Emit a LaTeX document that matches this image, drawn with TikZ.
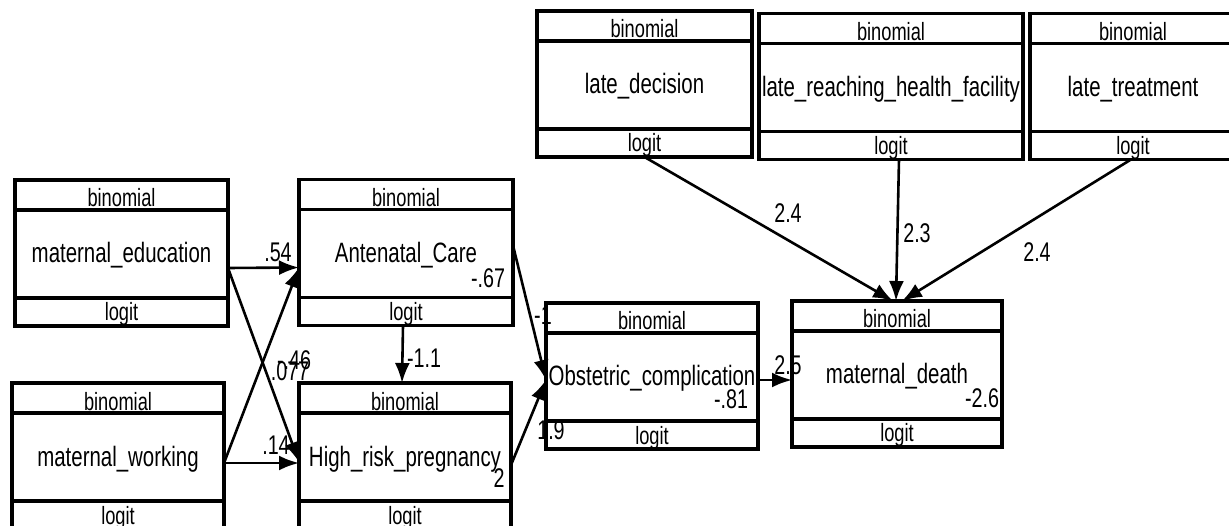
\documentclass[tikz,border=0pt]{standalone}
\usepackage{fontspec}
\usepackage{tikz}
\usetikzlibrary{positioning}
\usetikzlibrary{arrows.meta}
\newfontfamily\semfont{Liberation Sans}[FakeStretch=0.73]
\tikzset{every picture/.style={line width=3.3pt}}
\tikzset{varbox/.style={draw,minimum width=#1,minimum height=88pt,inner sep=0pt,outer sep=0pt,text height=21pt,text depth=3pt,font=\semfont\fontsize{28}{30}\selectfont},varbox/.default=212pt}
\tikzset{famcap/.style={draw,minimum width=#1,minimum height=30pt,inner sep=0pt,outer sep=0pt,text height=26pt,text depth=2pt,font=\semfont\fontsize{25}{27}\selectfont},famcap/.default=212pt}
\tikzset{linkcap/.style={draw,minimum width=#1,minimum height=28pt,inner sep=0pt,outer sep=0pt,text height=20pt,text depth=2pt,font=\semfont\fontsize{25}{27}\selectfont},linkcap/.default=212pt}
\tikzset{coef/.style={inner sep=0pt,font=\semfont\fontsize{27}{29}\selectfont},pathto/.style={line width=2.6pt,-{Latex[length=20pt,width=15pt]}}}

\begin{document}
\begin{tikzpicture}[x=1pt,y=-1pt]
\useasboundingbox (0,0) rectangle (1229,526);

\node (ed) [varbox=213pt] at (121.5,254) {maternal\_education};
\node (edf) [famcap=213pt, above=0pt of ed] {binomial};
\node (edl) [linkcap=213pt, below=0pt of ed] {logit};

\node (anc) [varbox=214pt] at (406,253.5) {Antenatal\_Care};
\node (ancf) [famcap=214pt, above=0pt of anc] {binomial};
\node (ancl) [linkcap=214pt, below=0pt of anc] {logit};

\node (wk) [varbox] at (118,457) {maternal\_working};
\node (wkf) [famcap, above=0pt of wk] {binomial};
\node (wkl) [linkcap, below=0pt of wk] {logit};

\node (hrp) [varbox] at (405,457) {High\_risk\_pregnancy};
\node (hrpf) [famcap, above=0pt of hrp] {binomial};
\node (hrpl) [linkcap, below=0pt of hrp] {logit};

\node (obs) [varbox] at (652,377) {Obstetric\_complication};
\node (obsf) [famcap, above=0pt of obs] {binomial};
\node (obsl) [linkcap, below=0pt of obs] {logit};

\node (md) [varbox=210pt] at (897,375) {maternal\_death};
\node (mdf) [famcap=210pt, above=0pt of md] {binomial};
\node (mdl) [linkcap=210pt, below=0pt of md] {logit};

\node (ld) [varbox=215pt] at (644.5,85) {late\_decision};
\node (ldf) [famcap=215pt, above=0pt of ld] {binomial};
\node (ldl) [linkcap=215pt, below=0pt of ld] {logit};

\node (lr) [varbox=264pt] at (891,87.5) {late\_reaching\_health\_facility};
\node (lrf) [famcap=264pt, above=0pt of lr] {binomial};
\node (lrl) [linkcap=264pt, below=0pt of lr] {logit};

\node (lt) [varbox=206pt] at (1133,87.5) {late\_treatment};
\node (ltf) [famcap=206pt, above=0pt of lt] {binomial};
\node (ltl) [linkcap=206pt, below=0pt of lt] {logit};

\draw[pathto] ([yshift=-14pt]ed.east) -- ([yshift=-14pt]anc.west);
\draw[pathto] ([yshift=-14pt]ed.east) -- ([yshift=-5pt]hrp.west);
\draw[pathto] ([yshift=-6pt]wk.east) -- ([yshift=-14pt]anc.west);
\draw[pathto] ([yshift=-6pt]wk.east) -- ([yshift=-6pt]hrp.west);
\draw[pathto] ([xshift=-3pt]ancl.south) -- ([xshift=-3pt]hrpf.north);
\draw[pathto] ([yshift=8pt]anc.east) -- ([yshift=-3pt]obs.west);
\draw[pathto] ([yshift=-8pt]hrp.east) -- ([yshift=-3pt]obs.west);
\draw[pathto] ([yshift=-3pt]obs.east) -- ([yshift=-5pt]md.west);
\draw[pathto] (ldl.south) -- ([xshift=-4pt]mdf.north);
\draw[pathto] ([xshift=8pt]lrl.south) -- ([xshift=-1pt]mdf.north);
\draw[pathto] ([xshift=-2pt]ltl.south) -- ([xshift=5pt]mdf.north);

\node (c1) [coef] at (278,252) {.54};
\node (c2) [coef] at (294,360) {-.46};
\node (c3) [coef] at (290,371) {.077};
\node (c4) [coef] at (276,445) {.14};
\node (c5) [coef] at (424,358) {-1.1};
\node (c6) [coef] at (488,278) {-.67};
\node (c7) [coef] at (499,478) {2};
\node (c8) [coef] at (543,315) {-1};
\node (c9) [coef] at (551,430) {1.9};
\node (c10) [coef] at (731,399) {-.81};
\node (c11) [coef] at (788,365) {2.5};
\node (c12) [coef] at (982,398) {-2.6};
\node (c13) [coef] at (788,213) {2.4};
\node (c14) [coef] at (917,233) {2.3};
\node (c15) [coef] at (1037,252) {2.4};
\end{tikzpicture}
\end{document}
